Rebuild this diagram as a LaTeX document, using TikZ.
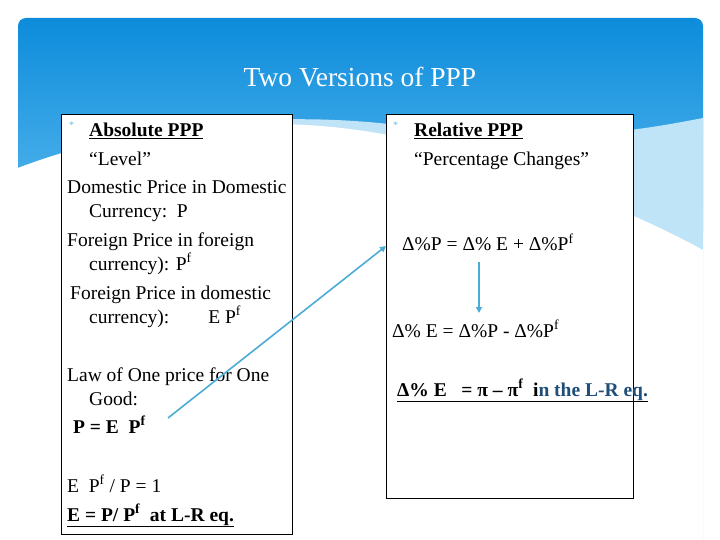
\documentclass[tikz,border=0pt]{standalone}
\usepackage{fontspec}
\setmainfont{Liberation Serif}
\usetikzlibrary{arrows.meta}
\definecolor{topblue}{HTML}{0D8CDB}
\definecolor{midblue}{HTML}{5DBBEF}
\definecolor{paleblue}{HTML}{BFE3F7}
\definecolor{linkblue}{HTML}{1F4E79}
\definecolor{arrowblue}{HTML}{4BACD6}
\begin{document}
\begin{tikzpicture}[x=1pt,y=-1pt,
  txt/.style={anchor=base west,inner sep=0pt,font=\fontsize{19.5}{22}\selectfont},
  panel/.style={draw=black,fill=white,line width=0.8pt},
  link/.style={draw=arrowblue,line width=1.6pt,-{Triangle[length=6pt,width=6pt]}}]
\useasboundingbox (0,0) rectangle (720,540);
\fill[white] (0,0) rectangle (720,540);
\shade[top color=topblue,bottom color=midblue,rounded corners=8pt] (18,18) rectangle (703,240);
\fill[paleblue] (18,168) .. controls (150,118) and (300,110) .. (420,128) .. controls (560,145) and (640,130) .. (703,118) -- (703,540) -- (18,540) -- cycle;
\fill[white] (18,168) .. controls (150,118) and (300,112) .. (420,142) .. controls (520,168) and (620,205) .. (703,250) -- (703,540) -- (18,540) -- cycle;
\node[text=white,font=\fontsize{27.5}{30}\selectfont] (title) at (360,77) {Two Versions of PPP};
\draw[panel] (61,114) rectangle (292,534);
\draw[panel] (386,114) rectangle (633,498);
\node[txt,text=midblue,font=\fontsize{10}{10}\selectfont] (b1) at (69,129) {*};
\node[txt] (a1) at (89,137) {\textbf{\underline{Absolute PPP}}};
\node[txt] (a2) at (89,166) {“Level”};
\node[txt] (a3) at (67,194) {Domestic Price in Domestic};
\node[txt] (a4) at (89,218) {Currency:\ \ P};
\node[txt] (a5) at (67,246) {Foreign Price in foreign};
\node[txt] (a6) at (89,270) {currency): P\textsuperscript{f}};
\node[txt] (a7) at (70,299) {Foreign Price in domestic};
\node[txt] (a8) at (89,323) {currency):\qquad E P\textsuperscript{f}};
\node[txt] (a9) at (67,381) {Law of One price for One};
\node[txt] (a10) at (89,405) {Good:};
\node[txt] (a11) at (73,433) {\textbf{P = E\ \ P\textsuperscript{f}}};
\node[txt] (a12) at (67,492) {E\ \ P\textsuperscript{f} / P = 1};
\node[txt] (a13) at (67,521) {\textbf{\underline{E = P/ P\textsuperscript{f}\ \ at L-R eq.}}};
\node[txt,text=midblue,font=\fontsize{10}{10}\selectfont] (b2) at (393,129) {*};
\node[txt] (r1) at (414,137) {\textbf{\underline{Relative PPP}}};
\node[txt] (r2) at (414,166) {“Percentage Changes”};
\node[txt] (r3) at (402,251) {Δ\%P = Δ\% E + Δ\%P\textsuperscript{f}};
\node[txt] (r4) at (392,337) {Δ\% E = Δ\%P - Δ\%P\textsuperscript{f}};
\node[txt] (r5) at (397,396) {\textbf{\underline{Δ\% E\ \ \ = π – π\textsuperscript{f}\ \ i\textcolor{linkblue}{n the L-R eq.}}}};
\coordinate (s1) at (168,418);
\coordinate (e1) at (386,246);
\draw[link] (s1) -- (e1);
\coordinate (s2) at (479,262);
\coordinate (e2) at (479,313);
\draw[link] (s2) -- (e2);
\end{tikzpicture}
\end{document}
